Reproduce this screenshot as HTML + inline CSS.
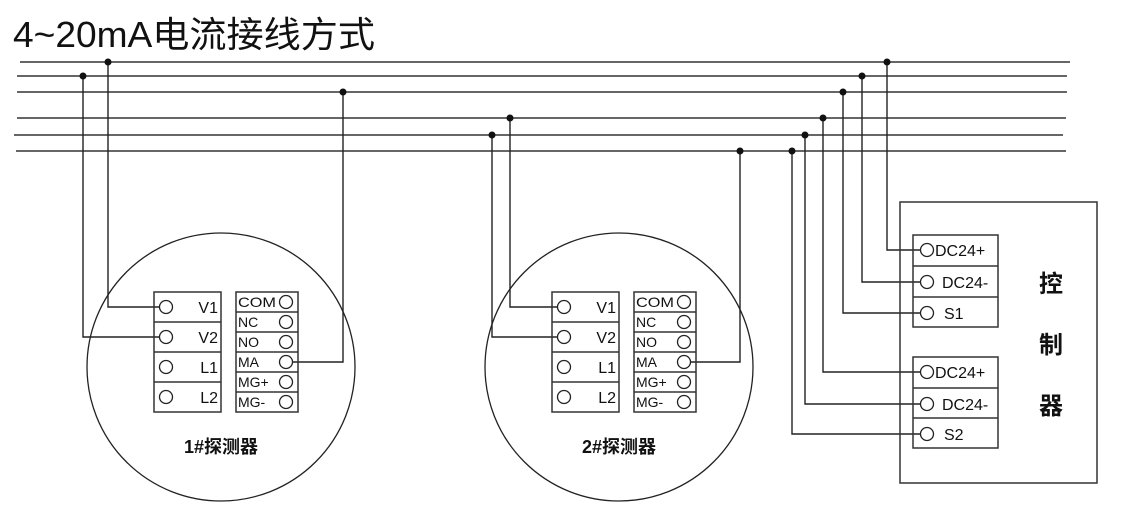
<!DOCTYPE html>
<html><head><meta charset="utf-8"><style>
html,body{margin:0;padding:0;background:#fff;width:1133px;height:513px;overflow:hidden}
svg{display:block}
text{font-family:"Liberation Sans","Noto Sans CJK SC",sans-serif;fill:#111}
</style></head><body>
<svg width="1133" height="513" viewBox="0 0 1133 513" xmlns="http://www.w3.org/2000/svg">
<text x="13" y="47" font-size="36" textLength="362" lengthAdjust="spacingAndGlyphs">4~20mA电流接线方式</text>
<g stroke="#333" stroke-width="1.6" fill="none">
<line x1="20" y1="62" x2="1070" y2="62"/>
<line x1="17" y1="76" x2="1067" y2="76"/>
<line x1="17" y1="92" x2="1067" y2="92"/>
<line x1="17" y1="118" x2="1066" y2="118"/>
<line x1="14" y1="135" x2="1063" y2="135"/>
<line x1="16" y1="151" x2="1066" y2="151"/>
</g>
<g stroke="#222" stroke-width="1.4" fill="none">
<polyline points="108,62 108,307 160,307"/>
<polyline points="83,76 83,337 160,337"/>
<polyline points="343,92 343,362 292,362"/>
<polyline points="510,118 510,307 558,307"/>
<polyline points="492,135 492,337 558,337"/>
<polyline points="740,151 740,362 690,362"/>
<polyline points="887,62 887,250 921,250"/>
<polyline points="862,76 862,282 921,282"/>
<polyline points="843,92 843,313 921,313"/>
<polyline points="823,118 823,372 921,372"/>
<polyline points="805,135 805,404 921,404"/>
<polyline points="792,151 792,434 921,434"/>
</g>
<g fill="#111">
<circle cx="108" cy="62" r="3.5"/><circle cx="83" cy="76" r="3.5"/><circle cx="343" cy="92" r="3.5"/>
<circle cx="510" cy="118" r="3.5"/><circle cx="492" cy="135" r="3.5"/><circle cx="740" cy="151" r="3.5"/>
<circle cx="887" cy="62" r="3.5"/><circle cx="862" cy="76" r="3.5"/><circle cx="843" cy="92" r="3.5"/>
<circle cx="823" cy="118" r="3.5"/><circle cx="805" cy="135" r="3.5"/><circle cx="792" cy="151" r="3.5"/>
</g>
<defs>
<g id="det">
<circle cx="221" cy="367" r="134" fill="none" stroke="#222" stroke-width="1.3"/>
<g stroke="#333" stroke-width="1.5" fill="none">
<rect x="154" y="292" width="67" height="120"/>
<line x1="154" y1="322" x2="221" y2="322"/><line x1="154" y1="352" x2="221" y2="352"/><line x1="154" y1="382" x2="221" y2="382"/>
<rect x="236" y="292" width="62" height="120"/>
<line x1="236" y1="312" x2="298" y2="312"/><line x1="236" y1="332" x2="298" y2="332"/><line x1="236" y1="352" x2="298" y2="352"/><line x1="236" y1="372" x2="298" y2="372"/><line x1="236" y1="392" x2="298" y2="392"/>
</g>
<g stroke="#222" stroke-width="1.3" fill="#fff">
<circle cx="166" cy="307" r="6.5"/><circle cx="166" cy="337" r="6.5"/><circle cx="166" cy="367" r="6.5"/><circle cx="166" cy="397" r="6.5"/>
<circle cx="286" cy="302" r="6.5"/><circle cx="286" cy="322" r="6.5"/><circle cx="286" cy="342" r="6.5"/><circle cx="286" cy="362" r="6.5"/><circle cx="286" cy="382" r="6.5"/><circle cx="286" cy="402" r="6.5"/>
</g>
<g font-size="16" text-anchor="end">
<text x="218" y="313">V1</text><text x="218" y="343">V2</text><text x="218" y="373">L1</text><text x="218" y="403">L2</text>
</g>
<g font-size="14">
<text x="238" y="307" textLength="38" lengthAdjust="spacingAndGlyphs">COM</text><text x="238" y="327">NC</text><text x="238" y="347">NO</text><text x="238" y="367">MA</text><text x="238" y="387">MG+</text><text x="238" y="407">MG-</text>
</g>
</g>
</defs>
<use href="#det"/>
<text x="221" y="453" font-size="18" font-weight="bold" text-anchor="middle">1#探测器</text>
<use href="#det" transform="translate(398,0)"/>
<text x="619" y="453" font-size="18" font-weight="bold" text-anchor="middle">2#探测器</text>
<g stroke="#333" stroke-width="1.5" fill="none">
<rect x="900" y="202" width="197" height="281"/>
<rect x="913" y="235" width="85" height="92"/>
<line x1="913" y1="266" x2="998" y2="266"/><line x1="913" y1="297" x2="998" y2="297"/>
<rect x="913" y="357" width="85" height="91"/>
<line x1="913" y1="388" x2="998" y2="388"/><line x1="913" y1="418" x2="998" y2="418"/>
</g>
<g stroke="#222" stroke-width="1.3" fill="#fff">
<circle cx="927" cy="250" r="6.5"/><circle cx="927" cy="282" r="6.5"/><circle cx="927" cy="313" r="6.5"/>
<circle cx="927" cy="372" r="6.5"/><circle cx="927" cy="404" r="6.5"/><circle cx="927" cy="434" r="6.5"/>
</g>
<g font-size="16">
<text x="935" y="256">DC24+</text><text x="942" y="288">DC24-</text><text x="944" y="319">S1</text>
<text x="935" y="378">DC24+</text><text x="942" y="410">DC24-</text><text x="944" y="440">S2</text>
</g>
<g font-size="24" font-weight="bold" text-anchor="middle">
<text x="1051" y="292">控</text><text x="1051" y="353">制</text><text x="1051" y="414">器</text>
</g>
</svg>
</body></html>
